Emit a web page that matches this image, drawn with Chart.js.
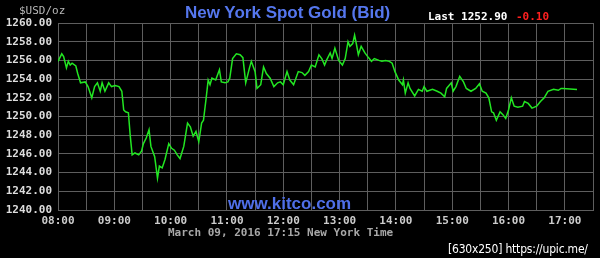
<!DOCTYPE html>
<html>
<head>
<meta charset="utf-8">
<script src="https://cdn.jsdelivr.net/npm/chart.js@4/dist/chart.umd.min.js"></script>
<style>
  body { margin: 0; background: #000; }
  #wrap { position: relative; width: 600px; height: 258px; background: #000; overflow: hidden; }
  .txt { position: absolute; white-space: nowrap; line-height: 1; }
  .mono { font-family: "DejaVu Sans Mono", monospace; font-size: 11px; font-weight: bold; }
</style>
</head>
<body>
<div id="wrap">
  <canvas id="goldChart" width="600" height="258"></canvas>
  <span class="txt mono" style="left:19px;top:5px;color:#b8b8b8;font-weight:normal;">$USD/oz</span>
  <span class="txt" style="left:185px;top:3px;color:#5577ee;font:bold 17px 'Liberation Sans',Arial,sans-serif;">New York Spot Gold (Bid)</span>
  <span class="txt mono" style="left:428px;top:11px;color:#ffffff;">Last 1252.90</span>
  <span class="txt mono" style="left:516px;top:11px;color:#ff2020;">-0.10</span>
  <span class="txt" style="left:228px;top:194px;color:#4f6fe8;font:bold 17px 'Liberation Sans',Arial,sans-serif;">www.kitco.com</span>
  <span class="txt mono" style="left:168px;top:227px;color:#a8a8a8;">March 09, 2016 17:15 New York Time</span>
  <span class="txt" style="left:448px;top:242px;color:#ffffff;font:12px 'DejaVu Sans Condensed','DejaVu Sans',sans-serif;letter-spacing:-0.2px;">[630x250] https://upic.me/</span>
</div>
<script>
// minutes after 08:00 and bid price
const minutes = [0, 4, 6, 9, 11, 13, 15, 19, 21, 24, 29, 32, 36, 39, 42, 45, 47, 50, 54, 57,
  61, 65, 68, 70, 72, 75, 77, 79, 82, 86, 89, 91, 94, 97, 99, 103, 106, 108, 111, 114,
  118, 121, 124, 127, 130, 134, 138, 141, 144, 147, 150, 153, 155, 158, 160, 162, 164, 168, 172, 174,
  178, 181, 183, 186, 190, 194, 197, 200, 204, 206, 210, 212, 216, 219, 222, 226, 230, 234, 237, 240,
  244, 247, 251, 256, 260, 263, 267, 270, 274, 278, 281, 284, 286, 290, 292, 295, 299, 303, 306, 309,
  311, 314, 316, 318, 320, 323, 327, 330, 334, 337, 342, 345, 349, 353, 356, 359, 363, 367, 368, 370,
  373, 375, 380, 384, 388, 390, 393, 399, 404, 408, 412, 414, 419, 421, 424, 428, 432, 435, 440, 445,
  449, 452, 456, 459, 462, 464, 467, 471, 474, 477, 480, 483, 486, 490, 495, 497, 501, 505, 510, 514,
  518, 522, 528, 533, 536, 538, 553];
const prices = [1255.9, 1256.7, 1256.4, 1255.2, 1255.9, 1255.5, 1255.7, 1255.4, 1254.6, 1253.6,
  1253.7, 1253.2, 1252.0, 1253.2, 1253.6, 1252.7, 1253.6, 1252.7, 1253.6, 1253.2,
  1253.3, 1253.2, 1252.7, 1250.7, 1250.5, 1250.4, 1247.9, 1245.9, 1246.1, 1245.9,
  1246.3, 1247.1, 1247.7, 1248.6, 1246.8, 1245.7, 1243.4, 1244.7, 1244.5, 1245.4,
  1247.1, 1246.6, 1246.4, 1245.9, 1245.5, 1246.8, 1249.3, 1248.9, 1247.9, 1248.4,
  1247.3, 1249.3, 1249.6, 1252.1, 1253.9, 1253.4, 1254.1, 1253.9, 1255.0, 1253.7,
  1253.6, 1253.7, 1254.1, 1256.2, 1256.7, 1256.6, 1256.3, 1253.6, 1255.2, 1255.9,
  1254.8, 1253.0, 1253.4, 1255.3, 1254.6, 1254.1, 1253.2, 1253.6, 1253.7, 1253.4,
  1254.8, 1253.9, 1253.4, 1254.8, 1254.7, 1254.4, 1254.8, 1255.5, 1255.3, 1256.6,
  1256.2, 1255.5, 1256.0, 1256.8, 1256.2, 1257.3, 1256.0, 1255.5, 1256.2, 1258.0,
  1257.5, 1257.8, 1258.7, 1257.7, 1256.6, 1257.5, 1256.8, 1256.4, 1255.9, 1256.2,
  1256.0, 1255.9, 1256.0, 1255.9, 1255.7, 1254.8, 1253.9, 1253.4, 1253.9, 1252.5,
  1253.6, 1253.0, 1252.2, 1252.9, 1252.7, 1253.2, 1252.7, 1252.9, 1252.7, 1252.5,
  1252.1, 1253.0, 1253.6, 1252.7, 1253.2, 1254.3, 1253.7, 1253.0, 1252.7, 1253.0,
  1253.5, 1252.7, 1252.5, 1252.0, 1250.5, 1250.4, 1249.6, 1250.5, 1250.2, 1249.8,
  1250.7, 1252.0, 1251.1, 1251.0, 1251.1, 1251.6, 1251.4, 1250.9, 1251.1, 1251.6,
  1252.0, 1252.7, 1252.9, 1252.8, 1253.0, 1253.0, 1252.9];
const hourLabels = ['08:00', '09:00', '10:00', '11:00', '12:00', '13:00', '14:00', '15:00', '16:00', '17:00'];

const points = minutes.map((m, i) => ({ x: m, y: prices[i] }));
const gridColor = '#5e5e5e';

const ctx = document.getElementById('goldChart').getContext('2d');
const goldChart = new Chart(ctx, {
    type: 'line',
    data: {
        datasets: [{
            data: points,
            borderColor: '#22e622',
            borderWidth: 1.5,
            pointRadius: 0,
            tension: 0
        }]
    },
    options: {
        responsive: false,
        animation: false,
        layout: { padding: { top: 23, right: 7, left: 0, bottom: 0 } },
        plugins: { legend: { display: false }, tooltip: { enabled: false } },
        scales: {
            x: {
                type: 'linear',
                min: 0,
                max: 570,
                afterFit: (scale) => { scale.height = 48; },
                grid: { color: gridColor, drawTicks: false },
                border: { color: gridColor },
                ticks: {
                    stepSize: 30,
                    autoSkip: false,
                    maxRotation: 0,
                    padding: 5,
                    color: '#cccccc',
                    font: { family: 'DejaVu Sans Mono', size: 11, weight: 'bold' },
                    callback: (v) => (v % 60 === 0 ? hourLabels[v / 60] : '')
                }
            },
            y: {
                min: 1240,
                max: 1260,
                afterFit: (scale) => { scale.width = 58; },
                grid: { color: gridColor, drawTicks: false },
                border: { color: gridColor },
                ticks: {
                    stepSize: 2,
                    padding: 6,
                    color: '#dddddd',
                    font: { family: 'DejaVu Sans Mono', size: 11, weight: 'bold' },
                    callback: (v) => v.toFixed(2)
                }
            }
        }
    }
});
</script>
</body>
</html>
